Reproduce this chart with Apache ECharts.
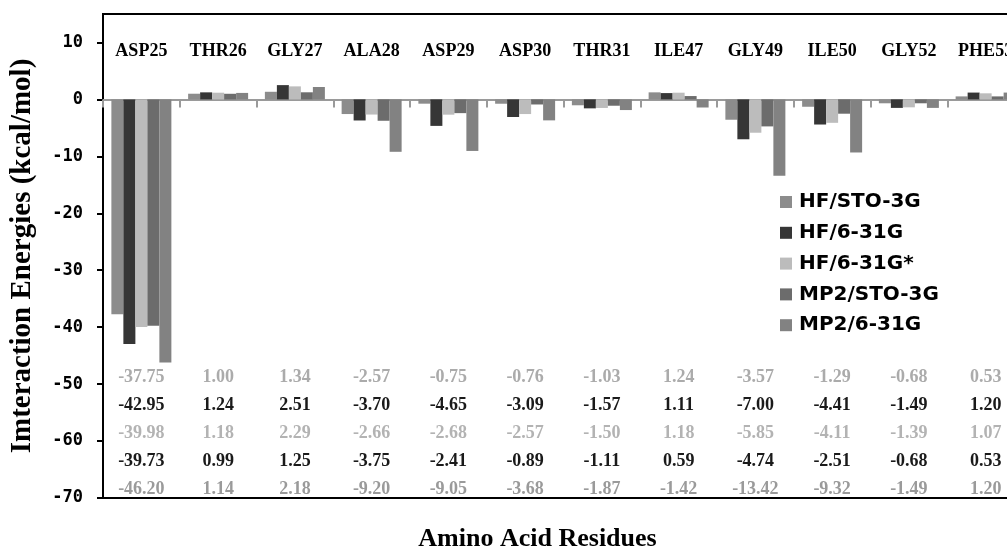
<!DOCTYPE html>
<html>
<head>
<meta charset="utf-8">
<script src="https://cdn.jsdelivr.net/npm/echarts@6/dist/echarts.min.js"></script>
<style>
html,body{margin:0;padding:0;background:#fff;}
#c{width:1007px;height:547px;}
</style>
</head>
<body>
<div id="c"></div>
<script>
var categories = ['ASP25','THR26','GLY27','ALA28','ASP29','ASP30','THR31','ILE47','GLY49','ILE50','GLY52','PHE53'];
var seriesNames = ['HF/STO-3G','HF/6-31G','HF/6-31G*','MP2/STO-3G','MP2/6-31G'];
var hfSto3g  = [-37.75, 1.00, 1.34, -2.57, -0.75, -0.76, -1.03, 1.24, -3.57, -1.29, -0.68, 0.53];
var hf631g   = [-42.95, 1.24, 2.51, -3.70, -4.65, -3.09, -1.57, 1.11, -7.00, -4.41, -1.49, 1.20];
var hf631gs  = [-39.98, 1.18, 2.29, -2.66, -2.68, -2.57, -1.50, 1.18, -5.85, -4.11, -1.39, 1.07];
var mp2Sto3g = [-39.73, 0.99, 1.25, -3.75, -2.41, -0.89, -1.11, 0.59, -4.74, -2.51, -0.68, 0.53];
var mp2631g  = [-46.20, 1.14, 2.18, -9.20, -9.05, -3.68, -1.87, -1.42, -13.42, -9.32, -1.49, 1.20];

var allData = [hfSto3g, hf631g, hf631gs, mp2Sto3g, mp2631g];
var barColors = ['#8c8c8c', '#363636', '#bcbcbc', '#6c6c6c', '#828282'];
var tableColors = ['#ababab', '#1a1a1a', '#b3b3b3', '#1a1a1a', '#9a9a9a'];

var chart = echarts.init(document.getElementById('c'), null, {renderer: 'canvas'});

var rich = {};
tableColors.forEach(function (c, i) {
  rich['r' + i] = {color: c, fontFamily: 'Liberation Serif', fontWeight: 'bold', fontSize: 18, lineHeight: 28};
});

var series = seriesNames.map(function (n, i) {
  return {
    name: n,
    type: 'bar',
    xAxisIndex: 0,
    yAxisIndex: 0,
    data: allData[i],
    barWidth: 12,
    barGap: '0%',
    itemStyle: {color: barColors[i]},
    emphasis: {disabled: true}
  };
});

chart.setOption({
  animation: false,
  backgroundColor: '#fff',
  grid: {
    left: 103, top: 14, right: -17, bottom: 49,
    outerBoundsMode: 'none',
    containLabel: false,
    show: true, borderColor: '#000', borderWidth: 2, backgroundColor: 'transparent'
  },
  legend: {
    orient: 'vertical',
    left: 775, top: 187,
    itemWidth: 12, itemHeight: 12, itemGap: 10.8,
    icon: 'rect',
    data: seriesNames,
    textStyle: {fontFamily: 'DejaVu Sans', fontWeight: 'bold', fontSize: 20, color: '#000', padding: [0, 0, 0, 2]}
  },
  xAxis: [
    {
      type: 'category', data: categories, position: 'bottom',
      axisLine: {onZero: true, lineStyle: {color: '#9a9a9a', width: 2}},
      axisTick: {show: true, length: 8, lineStyle: {color: '#9a9a9a', width: 2}},
      axisLabel: {show: false},
      splitLine: {show: false}
    },
    {
      type: 'category', data: categories, position: 'top',
      axisLine: {show: false, onZero: false},
      axisTick: {show: false},
      axisLabel: {inside: true, margin: 28, color: '#000', fontFamily: 'Liberation Serif', fontWeight: 'bold', fontSize: 18},
      splitLine: {show: false}
    },
    {
      type: 'category', data: categories, position: 'bottom',
      axisLine: {show: false, onZero: false},
      axisTick: {show: false},
      axisLabel: {
        inside: true, margin: -5, interval: 0,
        formatter: function (v, idx) {
          return allData.map(function (arr, i) {
            return '{r' + i + '|' + arr[idx].toFixed(2) + '}';
          }).join('\n');
        },
        rich: rich
      },
      name: 'Amino Acid Residues',
      nameLocation: 'middle',
      nameGap: 28,
      nameTextStyle: {color: '#000', fontFamily: 'Liberation Serif', fontWeight: 'bold', fontSize: 26, padding: [0, 52, 0, 0]},
      splitLine: {show: false}
    }
  ],
  yAxis: {
    type: 'value', min: -70, max: 15, interval: 10,
    axisLine: {show: true, lineStyle: {color: '#000', width: 2}},
    axisTick: {show: true, length: 6, lineStyle: {color: '#000', width: 2}},
    axisLabel: {showMaxLabel: false, margin: 20, color: '#000', fontFamily: 'DejaVu Sans Mono', fontWeight: 'bold', fontSize: 17},
    splitLine: {show: false},
    name: 'Imteraction Energies (kcal/mol)',
    nameLocation: 'middle',
    nameGap: 66,
    nameTextStyle: {color: '#000', fontFamily: 'Liberation Serif', fontWeight: 'bold', fontSize: 29}
  },
  series: series
});
</script>
</body>
</html>
